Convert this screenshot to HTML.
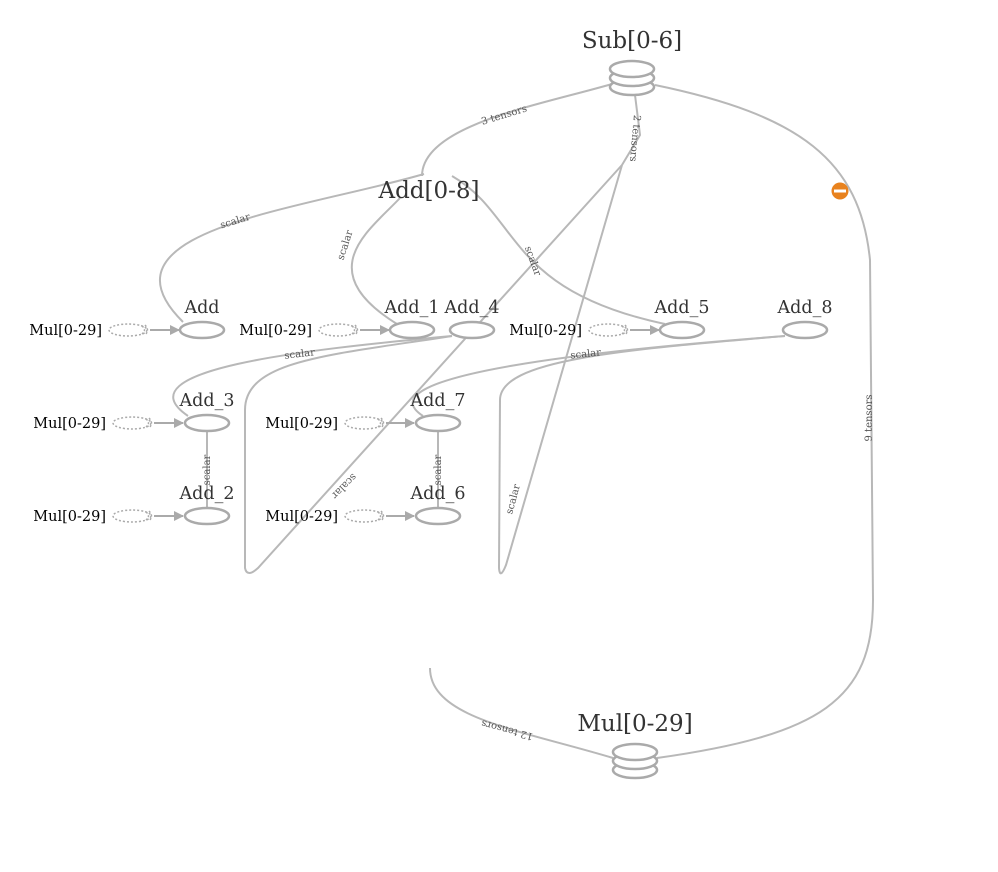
<!DOCTYPE html>
<html><head><meta charset="utf-8"><style>
html,body{margin:0;padding:0;background:#fff;}
svg{display:block;}
text{font-family:"DejaVu Serif","Liberation Serif",serif;}
</style></head><body>
<svg width="998" height="872" viewBox="0 0 998 872" xmlns="http://www.w3.org/2000/svg">
<defs>
<marker id="ar" markerWidth="10" markerHeight="10" refX="9" refY="5" orient="auto" markerUnits="userSpaceOnUse">
<path d="M0,0 L10,5 L0,10 z" fill="#aaa"/></marker>
</defs>
<g fill="none" stroke="#b8b8b8" stroke-width="2">
<path d="M612,84 C540,105 422,125 422,176"/>
<path d="M655,85 C800,115 860,160 870,260 L873,600 C873,700 820,735 657,758"/>
<path d="M635,95 L640,135 L622,165"/>
<path d="M452,336 C330,355 245,360 245,410 L245,568 Q247,578 258,568 L622,165"/>
<path d="M785,336 C620,350 500,360 500,400 L499,568 Q500,580 506,565 L622,165"/>
<path d="M424,174 C300,210 90,230 183,322"/>
<path d="M400,198 C370,230 310,270 397,324"/>
<path d="M452,176 C520,215 505,290 665,324"/>
<path d="M452,336 C300,350 120,370 188,416"/>
<path d="M785,336 C600,350 360,375 423,416"/>
<path d="M207,431 L207,508"/>
<path d="M438,431 L438,508"/>
<path d="M613,758 C520,730 430,718 430,668"/>
</g>
<g font-size="14.5" fill="#000" text-anchor="end">
<text x="102" y="335">Mul[0-29]</text>
<text x="312" y="335">Mul[0-29]</text>
<text x="582" y="335">Mul[0-29]</text>
<text x="106" y="428">Mul[0-29]</text>
<text x="338" y="428">Mul[0-29]</text>
<text x="106" y="521">Mul[0-29]</text>
<text x="338" y="521">Mul[0-29]</text>
</g>
<g fill="none" stroke="#aaa" stroke-width="1.5" stroke-dasharray="2,2">
<ellipse cx="128" cy="330" rx="19" ry="6"/><path d="M142,326 Q147,330 142,334 M145,325 Q150,330 145,335"/>
<ellipse cx="338" cy="330" rx="19" ry="6"/><path d="M352,326 Q357,330 352,334 M355,325 Q360,330 355,335"/>
<ellipse cx="608" cy="330" rx="19" ry="6"/><path d="M622,326 Q627,330 622,334 M625,325 Q630,330 625,335"/>
<ellipse cx="132" cy="423" rx="19" ry="6"/><path d="M146,419 Q151,423 146,427 M149,418 Q154,423 149,428"/>
<ellipse cx="364" cy="423" rx="19" ry="6"/><path d="M378,419 Q383,423 378,427 M381,418 Q386,423 381,428"/>
<ellipse cx="132" cy="516" rx="19" ry="6"/><path d="M146,512 Q151,516 146,520 M149,511 Q154,516 149,521"/>
<ellipse cx="364" cy="516" rx="19" ry="6"/><path d="M378,512 Q383,516 378,520 M381,511 Q386,516 381,521"/>
</g>
<g stroke="#aaa" stroke-width="2" marker-end="url(#ar)">
<line x1="150" y1="330" x2="179" y2="330"/>
<line x1="360" y1="330" x2="389" y2="330"/>
<line x1="630" y1="330" x2="659" y2="330"/>
<line x1="154" y1="423" x2="183" y2="423"/>
<line x1="386" y1="423" x2="414" y2="423"/>
<line x1="154" y1="516" x2="183" y2="516"/>
<line x1="386" y1="516" x2="414" y2="516"/>
</g>
<g fill="#fff" stroke="#aaa" stroke-width="2.5">
<ellipse cx="202" cy="330" rx="22" ry="8"/>
<ellipse cx="412" cy="330" rx="22" ry="8"/>
<ellipse cx="472" cy="330" rx="22" ry="8"/>
<ellipse cx="682" cy="330" rx="22" ry="8"/>
<ellipse cx="805" cy="330" rx="22" ry="8"/>
<ellipse cx="207" cy="423" rx="22" ry="8"/>
<ellipse cx="438" cy="423" rx="22" ry="8"/>
<ellipse cx="207" cy="516" rx="22" ry="8"/>
<ellipse cx="438" cy="516" rx="22" ry="8"/>
</g>
<g font-size="17.5" fill="#333" text-anchor="middle">
<text x="202" y="313">Add</text>
<text x="412" y="313">Add_1</text>
<text x="472" y="313">Add_4</text>
<text x="682" y="313">Add_5</text>
<text x="805" y="313">Add_8</text>
<text x="207" y="406">Add_3</text>
<text x="438" y="406">Add_7</text>
<text x="207" y="499">Add_2</text>
<text x="438" y="499">Add_6</text>
</g>
<g fill="#fff" stroke="#aaa" stroke-width="2.5">
<ellipse cx="632" cy="87" rx="22" ry="8"/>
<ellipse cx="632" cy="78" rx="22" ry="8"/>
<ellipse cx="632" cy="69" rx="22" ry="8"/>
<ellipse cx="635" cy="770" rx="22" ry="8"/>
<ellipse cx="635" cy="761" rx="22" ry="8"/>
<ellipse cx="635" cy="752" rx="22" ry="8"/>
</g>
<g font-size="23" fill="#333" text-anchor="middle">
<text x="632" y="48">Sub[0-6]</text>
<text x="429" y="198">Add[0-8]</text>
<text x="635" y="731">Mul[0-29]</text>
</g>
<circle cx="840" cy="191" r="8.5" fill="#e8821e"/>
<rect x="834" y="189.5" width="12" height="3" fill="#fff"/>
<g font-size="10" fill="#555" text-anchor="middle">
<text transform="translate(505,118) rotate(-17)">3 tensors</text>
<text transform="translate(632,138) rotate(95)">2 tensors</text>
<text transform="translate(872,418) rotate(-90)">9 tensors</text>
<text transform="translate(508,727) rotate(195)">12 tensors</text>
<text transform="translate(236,224) rotate(-17)">scalar</text>
<text transform="translate(348,246) rotate(-72)">scalar</text>
<text transform="translate(530,262) rotate(70)">scalar</text>
<text transform="translate(300,357) rotate(-7)">scalar</text>
<text transform="translate(586,357) rotate(-6)">scalar</text>
<text transform="translate(210,470) rotate(-90)">scalar</text>
<text transform="translate(441,470) rotate(-90)">scalar</text>
<text transform="translate(342,484) rotate(135)">scalar</text>
<text transform="translate(516,500) rotate(-75)">scalar</text>
</g>
</svg>
</body></html>
